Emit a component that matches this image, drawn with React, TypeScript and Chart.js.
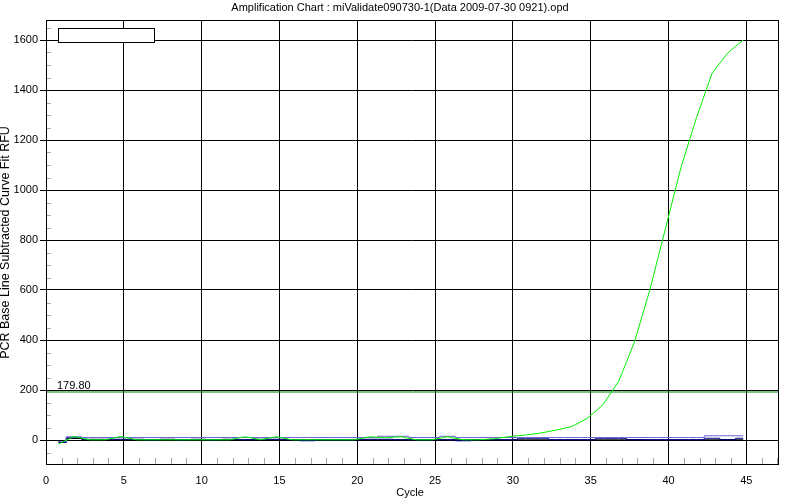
import React, { useEffect, useRef } from 'react';
import { Chart, registerables } from 'chart.js';

Chart.register(...registerables);

const TITLE = 'Amplification Chart : miValidate090730-1(Data 2009-07-30 0921).opd';
const X_LABEL = 'Cycle';
const Y_LABEL = 'PCR Base Line Subtracted Curve Fit RFU';

const CYCLES = [1, 2, 3, 4, 5, 6, 7, 8, 9, 10, 11, 12, 13, 14, 15, 16, 17, 18, 19, 20, 21, 22, 23, 24, 25, 26, 27, 28, 29, 30, 31, 32, 33, 34, 35, 36, 37, 38, 39, 40, 41, 42, 43, 44, 45];
const X_TICKS = [0, 5, 10, 15, 20, 25, 30, 35, 40, 45];
const Y_TICKS = [0, 200, 400, 600, 800, 1000, 1200, 1400, 1600];
const X_MIN = 0;
const X_MAX = 47.1;
const Y_MIN = -100;
const Y_MAX = 1680;
const CYCLE_SHIFT = 0.2; // instrument plots each read slightly before the integer cycle

const THRESHOLD_VALUE = 192;
const THRESHOLD_LABEL = '179.80';

const GREEN = [-16, 14, 1, 1, 14, 1, 1, 1, 1, 1, 1, 1, 13, 1, 13, 1, 1, 1, 1, 1, 13, 9, 13, 1, 1, 13, 1, 1, 5, 14, 20, 28, 40, 54, 87, 142, 235, 390, 600, 845, 1090, 1290, 1467, 1548, 1600];
const LAVENDER = [-6, 13, 10, 10, 10, 10, 10, 10, 10, 10, 10, 10, 10, 10, 10, 10, 10, 10, 10, 10, 10, 15, 15, 10, 10, 15, 10, 10, 10, 10, 10, 10, 10, 10, 10, 10, 10, 10, 10, 10, 10, 10, 17, 17, 17];
const NAVY = [-10, 9, 3, 3, 3, 3, 1, 3, 1, 3, 1, 3, 1, 3, 3, 1, -3, 1, 1, 1, 3, 3, 1, 1, 1, 1, -3, 1, 1, 1, 7, 7, 1, 1, 1, 7, 7, 1, 1, 1, 1, 1, 7, 1, 7];
const BLACK = [-5, 6, 1, 1, 1, 1, 1, 2, 1, 1, 1, 1, 1, 1, 1, 1, 1, 1, 1, 1, 1, 1, 1, 1, 1, 1, 1, 2, 1, 1, 1, 1, 1, 1, 1, 1, 1, 2, 1, 1, 1, 1, 1, 2, 1];

const FONT = '"Liberation Sans", Arial, sans-serif';

const toPoints = (vals: number[]) => CYCLES.map((c, i) => ({ x: c - CYCLE_SHIFT, y: vals[i] }));

const decor = {
  id: 'decor',
  beforeDatasetsDraw(chart: any) {
    const { ctx, chartArea: a, scales } = chart;
    const xs = scales.x;
    const ys = scales.y;
    ctx.save();
    ctx.strokeStyle = '#a8a8a8';
    ctx.lineWidth = 1;
    ctx.beginPath();
    for (let v = 1; v <= Math.floor(X_MAX); v++) {
      if (v % 5 === 0) continue;
      const px = Math.round(xs.getPixelForValue(v)) + 0.5;
      ctx.moveTo(px, a.bottom);
      ctx.lineTo(px, a.bottom - 7);
    }
    for (let v = -50; v < Y_MAX; v += 50) {
      if (v % 200 === 0) continue;
      const py = Math.round(ys.getPixelForValue(v)) + 0.5;
      ctx.moveTo(a.left, py);
      ctx.lineTo(a.left + 5, py);
    }
    ctx.stroke();
    ctx.restore();
  },
  afterDatasetsDraw(chart: any) {
    const { ctx, chartArea: a, scales } = chart;
    ctx.save();
    ctx.strokeStyle = '#000';
    ctx.lineWidth = 1;
    ctx.strokeRect(Math.round(a.left) + 0.5, Math.round(a.top) + 0.5, Math.round(a.right - a.left) - 1, Math.round(a.bottom - a.top) - 1);
    // empty legend box
    ctx.fillStyle = '#fff';
    ctx.fillRect(58.5, 28.5, 96, 14);
    ctx.strokeRect(58.5, 28.5, 96, 14);
    // threshold label
    ctx.fillStyle = '#000';
    ctx.font = `11px ${FONT}`;
    ctx.textAlign = 'left';
    ctx.textBaseline = 'alphabetic';
    ctx.fillText(THRESHOLD_LABEL, 57, scales.y.getPixelForValue(THRESHOLD_VALUE) - 3);
    // title
    ctx.textAlign = 'center';
    ctx.textBaseline = 'middle';
    ctx.fillText(TITLE, 400, 8);
    // x label
    ctx.font = `11px ${FONT}`;
    ctx.fillText(X_LABEL, 410, 493);
    // y label
    ctx.translate(6, (a.top + a.bottom) / 2);
    ctx.rotate(-Math.PI / 2);
    ctx.font = `12.5px ${FONT}`;
    ctx.fillText(Y_LABEL, 0, 0);
    ctx.restore();
  },
};

export default function App() {
  const ref = useRef<HTMLCanvasElement | null>(null);
  useEffect(() => {
    document.body.style.margin = '0';
    const canvas = ref.current;
    if (!canvas) return;
    const line = (label: string, vals: number[], color: string, stepped: any) => ({
      label,
      data: toPoints(vals),
      borderColor: color,
      backgroundColor: color,
      borderWidth: 1,
      pointRadius: 0,
      stepped,
      tension: 0,
      fill: false,
    });
    const chart = new Chart(canvas, {
      type: 'line',
      data: {
        datasets: [
          line('Well A', GREEN, '#00f000', false),
          line('Well B', LAVENDER, '#6a64d4', 'middle'),
          line('Well C', NAVY, '#00008c', 'middle'),
          line('Well D', BLACK, '#000000', 'middle'),
          {
            label: 'Threshold',
            data: [
              { x: X_MIN, y: THRESHOLD_VALUE },
              { x: X_MAX, y: THRESHOLD_VALUE },
            ],
            borderColor: '#008000',
            borderWidth: 1,
            pointRadius: 0,
            fill: false,
          },
        ],
      },
      options: {
        animation: false,
        responsive: false,
        maintainAspectRatio: false,
        layout: { padding: { top: 20, right: 21, left: 0, bottom: 0 } },
        plugins: { legend: { display: false }, title: { display: false }, tooltip: { enabled: false } },
        scales: {
          x: {
            type: 'linear',
            min: X_MIN,
            max: X_MAX,
            afterBuildTicks: (s: any) => {
              s.ticks = X_TICKS.map((v) => ({ value: v }));
            },
            afterFit: (s: any) => {
              s.height = 35;
            },
            grid: { color: '#000', lineWidth: 1, drawTicks: false },
            border: { display: false },
            ticks: {
              color: '#000',
              font: { family: FONT, size: 11 },
              padding: 9,
              maxRotation: 0,
              autoSkip: false,
              callback: (v: any) => String(v),
            },
          },
          y: {
            type: 'linear',
            min: Y_MIN,
            max: Y_MAX,
            afterBuildTicks: (s: any) => {
              s.ticks = Y_TICKS.map((v) => ({ value: v }));
            },
            afterFit: (s: any) => {
              s.width = 46;
            },
            grid: { color: '#000', lineWidth: 1, drawTicks: true, tickLength: 6, tickColor: '#000' },
            border: { display: false },
            ticks: {
              color: '#000',
              font: { family: FONT, size: 11 },
              padding: 2,
              autoSkip: false,
              callback: (v: any) => String(v),
            },
          },
        },
      },
      plugins: [decor],
    });
    return () => chart.destroy();
  }, []);
  return (
    <div style={{ position: 'absolute', left: 0, top: 0, width: 800, height: 500 }}>
      <canvas ref={ref} width={800} height={500} />
    </div>
  );
}
